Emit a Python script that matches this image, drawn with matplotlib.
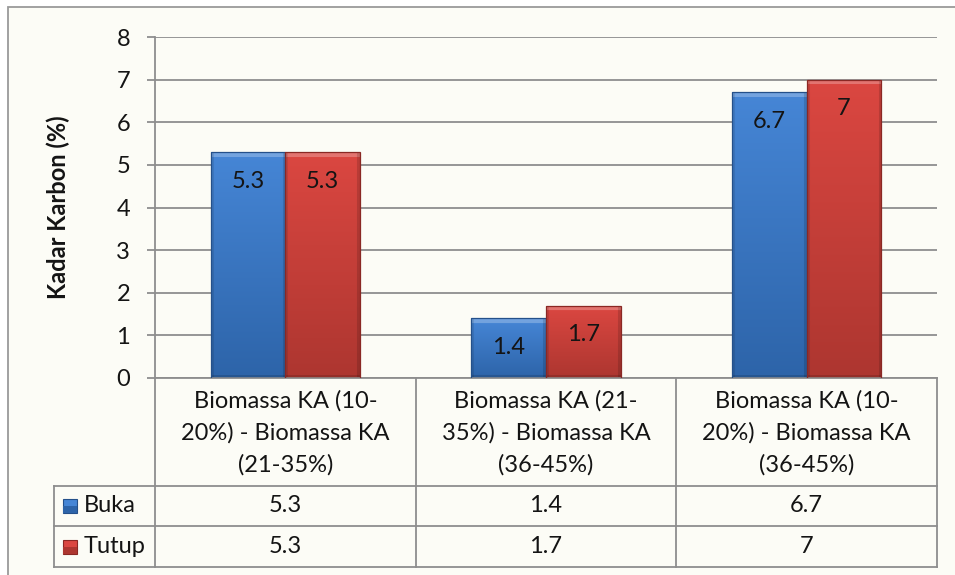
import numpy as np
import matplotlib
matplotlib.use("Agg")
import matplotlib.pyplot as plt
from matplotlib.patches import Rectangle
from matplotlib.lines import Line2D
from matplotlib.transforms import blended_transform_factory
from matplotlib.colors import to_rgb

plt.rcParams['font.family'] = ['Lato', 'DejaVu Sans']

categories = [
    "Biomassa KA (10-\n20%) - Biomassa KA\n(21-35%)",
    "Biomassa KA (21-\n35%) - Biomassa KA\n(36-45%)",
    "Biomassa KA (10-\n20%) - Biomassa KA\n(36-45%)",
]
series_names = ["Buka", "Tutup"]
buka = [5.3, 1.4, 6.7]
tutup = [5.3, 1.7, 7.0]
y_label = "Kadar Karbon (%)"

W, H = 955, 575
BG = "#fcfcf6"
GRID = "#8e8e8e"
TXT = "#141414"
FS = 17
colors = {
    "Buka": ("#4686d6", "#2d64a9", "#24508a"),
    "Tutup": ("#db4741", "#ad3630", "#8a2824"),
}

fig = plt.figure(figsize=(W / 100, H / 100), dpi=100)
fig.patch.set_facecolor("white")
fig.add_artist(Rectangle((8 / W, -0.02), 1.1, 1 - 7 / H + 0.02, transform=fig.transFigure,
                         facecolor=BG, edgecolor="#9a9a9a", lw=1.3, zorder=0))

ax_top, ax_bot, ax_left, ax_right = 37, 378, 155, 937
ax = fig.add_axes([ax_left / W, 1 - ax_bot / H, (ax_right - ax_left) / W, (ax_bot - ax_top) / H])
ax.set_facecolor("none")
ax.set_xlim(-0.5, len(categories) - 0.5)
ax.set_ylim(0, 8)
ax.set_yticks(range(0, 9))
ax.set_xticks([])
ax.yaxis.grid(True, color=GRID, lw=1.3)
ax.set_axisbelow(True)
for s in ["top", "right"]:
    ax.spines[s].set_visible(False)
for s in ["left", "bottom"]:
    ax.spines[s].set_color(GRID)
    ax.spines[s].set_linewidth(1.3)
ax.tick_params(axis="y", length=6, width=1.3, color=GRID, pad=12, labelsize=FS, labelcolor=TXT)
ax.set_ylabel(y_label, fontsize=FS, fontweight="bold", color=TXT)
ax.yaxis.set_label_coords(-0.109, 0.5)


def shade_bar(patch, top, bottom):
    x0, y0 = patch.get_x(), patch.get_y()
    w, h = patch.get_width(), patch.get_height()
    (px0, py0), (px1, py1) = ax.transData.transform([(x0, y0), (x0 + w, y0 + h)])
    nx, ny = max(int(px1 - px0), 4), max(int(py1 - py0), 4)
    t = np.linspace(0, 1, ny)[:, None, None]
    img = np.array(to_rgb(top)) * (1 - t) + np.array(to_rgb(bottom)) * t
    img = np.repeat(img, nx, axis=1)
    b = 5
    img[:b] = img[:b] * 0.75 + 0.25 * np.array([1, 1, 1])
    img[:, :3] *= 0.9
    img[:, -3:] *= 0.86
    img[-3:] *= 0.86
    im = ax.imshow(np.clip(img, 0, 1), extent=(x0, x0 + w, y0, y0 + h), aspect="auto",
                   zorder=2.5, interpolation="bilinear")
    im.set_clip_path(patch)


x = np.arange(len(categories))
bw = 0.286
for i, (name, vals) in enumerate(zip(series_names, [buka, tutup])):
    top, bottom, edge = colors[name]
    pos = x + (i - 0.5) * bw
    bars = ax.bar(pos, vals, bw, color=bottom, zorder=2)
    for p in bars:
        shade_bar(p, top, bottom)
    ax.bar(pos, vals, bw, fill=False, edgecolor=edge, lw=0.9, zorder=3)
    for xp, v in zip(pos, vals):
        ax.annotate(f"{v:g}", (xp, v), xytext=(0, -21), textcoords="offset points",
                    ha="center", va="center", fontsize=FS, color=TXT, zorder=4)
ax.set_xlim(-0.5, len(categories) - 0.5)
ax.set_ylim(0, 8)

# data table below the axes
tr = blended_transform_factory(ax.transData, fig.transFigure)
fy = lambda p: 1 - p / H
rows = [ax_bot, 486, 526, 567]
leg_left = 54
for xb in np.arange(len(categories) + 1) - 0.5:
    fig.add_artist(Line2D([xb, xb], [fy(rows[0]), fy(rows[-1])], transform=tr, color=GRID, lw=1.3))
for r in rows[1:]:
    fig.add_artist(Line2D([leg_left / W, ax_right / W], [fy(r), fy(r)], transform=fig.transFigure,
                          color=GRID, lw=1.3))
fig.add_artist(Line2D([leg_left / W, leg_left / W], [fy(rows[1]), fy(rows[-1])],
                      transform=fig.transFigure, color=GRID, lw=1.3))

for i, cat in enumerate(categories):
    fig.text(i, fy((rows[0] + rows[1]) / 2 + 1), cat, transform=tr, ha="center", va="center",
             fontsize=FS, linespacing=1.6, color=TXT)

for j, (name, vals) in enumerate(zip(series_names, [buka, tutup])):
    yc = (rows[j + 1] + rows[j + 2]) / 2
    for i, v in enumerate(vals):
        fig.text(i, fy(yc), f"{v:g}", transform=tr, ha="center", va="center", fontsize=FS, color=TXT)
    top, bottom, edge = colors[name]
    fig.add_artist(Rectangle((63 / W, fy(yc + 7)), 14 / W, 14 / H, transform=fig.transFigure,
                             facecolor=top, edgecolor=edge, lw=0.8))
    fig.add_artist(Rectangle((63 / W, fy(yc + 7)), 14 / W, 7 / H, transform=fig.transFigure,
                             facecolor=bottom, edgecolor="none"))
    fig.text(84 / W, fy(yc), name, ha="left", va="center", fontsize=FS, color=TXT)

fig.savefig("out.png", dpi=100, facecolor=fig.get_facecolor())
